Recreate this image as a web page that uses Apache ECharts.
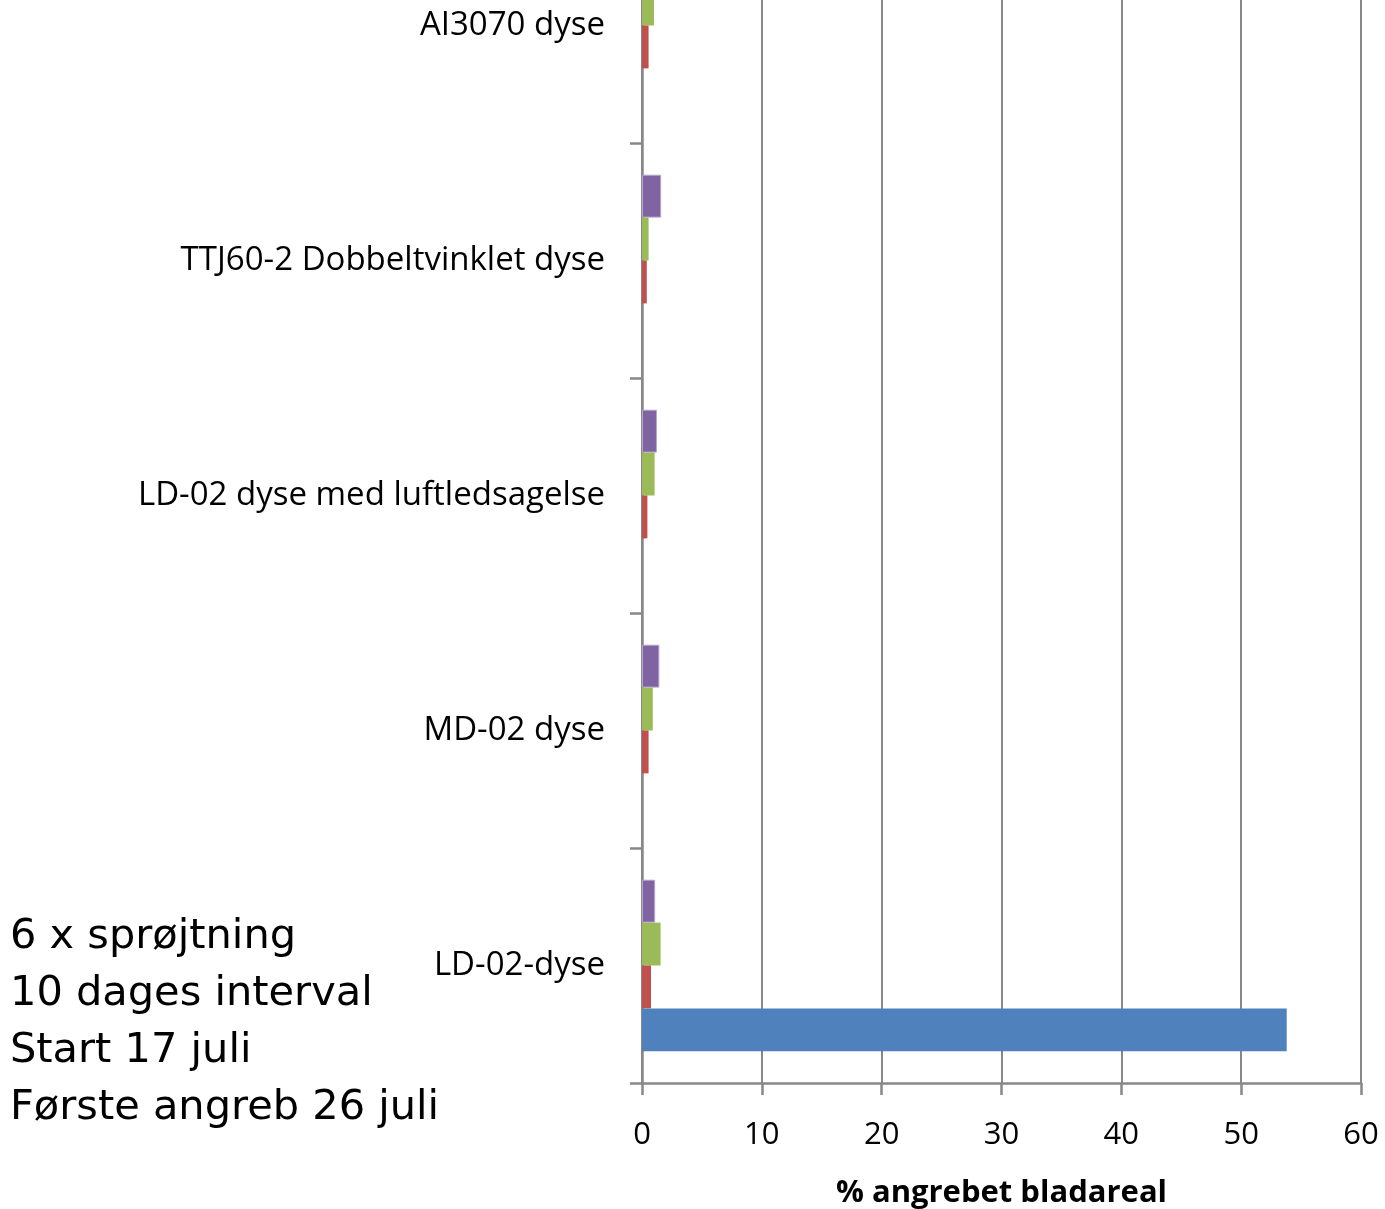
<!DOCTYPE html>
<html>
<head>
<meta charset="utf-8">
<script src="https://cdn.jsdelivr.net/npm/echarts@6/dist/echarts.min.js"></script>
<style>
html,body{margin:0;padding:0;background:#fff;overflow:hidden;}
#chart{width:1385px;height:1209px;}
</style>
</head>
<body>
<div id="chart"></div>
<script>
// Categories from bottom to top
const categories = ['LD-02-dyse', 'MD-02 dyse', 'LD-02 dyse med luftledsagelse', 'TTJ60-2 Dobbeltvinklet dyse', 'AI3070 dyse'];
// Series (bottom to top within each group)
const serie1 = [53.8, 0, 0, 0, 0];            // blue
const serie2 = [0.75, 0.55, 0.45, 0.4, 0.55]; // red
const serie3 = [1.55, 0.9, 1.05, 0.55, 1.0];  // green
const serie4 = [1.1, 1.45, 1.25, 1.6, 1.2];   // purple
const xTicks = [0, 10, 20, 30, 40, 50, 60];
const noteLines = ['6 x sprøjtning', '10 dages interval', 'Start 17 juli', 'Første angreb 26 juli'];

const chart = echarts.init(document.getElementById('chart'));
const labelFont = 'Open Sans';
const seriesDefs = [
  {name: 'Serie 1', data: serie1, color: '#4F81BD'},
  {name: 'Serie 2', data: serie2, color: '#C0504D'},
  {name: 'Serie 3', data: serie3, color: '#9BBB59'},
  {name: 'Serie 4', data: serie4, color: '#8064A2', border: '#B7A6CF'}
];
chart.setOption({
  animation: false,
  backgroundColor: '#ffffff',
  grid: {left: 642, right: 24, top: -92, bottom: 126, containLabel: false, outerBoundsMode: 'none'},
  xAxis: {
    type: 'value', min: xTicks[0], max: xTicks[xTicks.length - 1], interval: 10,
    axisLine: {show: true, lineStyle: {color: '#888888', width: 2.5}},
    axisTick: {show: true, length: 12, lineStyle: {color: '#888888', width: 2.5}},
    splitLine: {show: true, lineStyle: {color: '#888888', width: 2}},
    axisLabel: {color: '#000', fontFamily: labelFont, fontSize: 31, margin: 37},
    name: '% angrebet bladareal', nameLocation: 'middle', nameGap: 95,
    nameTextStyle: {color: '#000', fontFamily: labelFont, fontSize: 31, fontWeight: 'bold'}
  },
  yAxis: {
    type: 'category', data: categories,
    axisLine: {show: true, lineStyle: {color: '#888888', width: 2.5}},
    axisTick: {show: true, length: 12, lineStyle: {color: '#888888', width: 2.5}},
    splitLine: {show: false},
    axisLabel: {color: '#000', fontFamily: labelFont, fontSize: 33, margin: 37, padding: [7, 0, 0, 0]}
  },
  series: seriesDefs.slice().reverse().map(s => ({
    type: 'bar', name: s.name, data: s.data,
    barGap: '0%', barCategoryGap: '27%',
    itemStyle: {color: s.color, borderColor: s.border || s.color, borderWidth: s.border ? 1 : 0},
    silent: true
  })),
  graphic: noteLines.map((t, i) => ({
    type: 'text', left: 10, top: 916 + i * 57,
    style: {text: t, fill: '#000', font: '41.5px "DejaVu Sans"'}
  }))
});
</script>
</body>
</html>
